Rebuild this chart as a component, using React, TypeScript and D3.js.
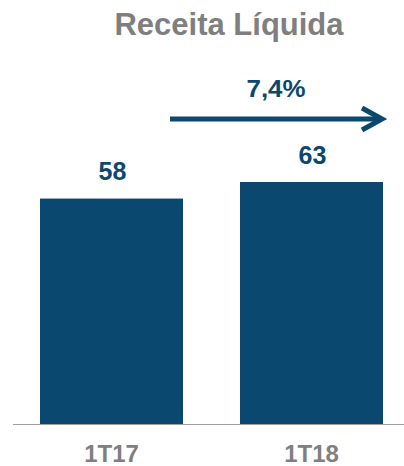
import React from "react";
import * as d3 from "d3";

const categories = ["1T17", "1T18"];
const values = [58.5, 62.8];
const valueLabels = ["58", "63"];
const growthLabel = "7,4%";
const title = "Receita Líquida";

const W = 404;
const H = 466;
const BLUE = "#0a4870";
const GRAY = "#7f7f7f";
const FONT = "'Liberation Sans', Arial, sans-serif";

export default function App() {
  const x = d3
    .scaleBand<string>()
    .domain(categories)
    .range([11.5, 411.5])
    .paddingInner(0.285)
    .paddingOuter(0.1425);
  const baseY = 424;
  const y = d3.scaleLinear().domain([0, 62.8]).range([baseY, 182]);
  const bw = x.bandwidth();

  const arrowY = 119;
  const arrowX0 = 170;
  const arrowX1 = 382;

  return (
    <svg width={W} height={H} style={{ position: "absolute", left: 0, top: 0, background: "#fff" }}>
      <text x={229} y={35} textAnchor="middle" fontFamily={FONT} fontWeight="bold" fontSize={31} fill={GRAY}>
        {title}
      </text>
      {categories.map((c, i) => (
        <g key={c}>
          <rect x={x(c)} y={y(values[i])} width={bw} height={baseY - y(values[i])} fill={BLUE} />
          <text
            x={(x(c) as number) + bw / 2 + 1}
            y={y(values[i]) - 18.5}
            textAnchor="middle"
            fontFamily={FONT}
            fontWeight="bold"
            fontSize={25}
            fill={BLUE}
          >
            {valueLabels[i]}
          </text>
          <text
            x={(x(c) as number) + bw / 2}
            y={462}
            textAnchor="middle"
            fontFamily={FONT}
            fontWeight="bold"
            fontSize={24}
            fill={GRAY}
          >
            {c}
          </text>
        </g>
      ))}
      <line x1={13} x2={404} y1={baseY + 0.5} y2={baseY + 0.5} stroke="#a0a0a0" strokeWidth={1} />
      <line x1={arrowX0} x2={arrowX1 - 2} y1={arrowY} y2={arrowY} stroke={BLUE} strokeWidth={5} />
      <polyline
        points={`${arrowX1 - 20},${arrowY - 11} ${arrowX1},${arrowY} ${arrowX1 - 20},${arrowY + 11}`}
        fill="none"
        stroke={BLUE}
        strokeWidth={5}
        strokeLinejoin="miter"
      />
      <text
        x={276}
        y={97}
        textAnchor="middle"
        fontFamily={FONT}
        fontWeight="bold"
        fontSize={23}
        fill={BLUE}
        textLength={59}
        lengthAdjust="spacingAndGlyphs"
      >
        {growthLabel}
      </text>
    </svg>
  );
}
